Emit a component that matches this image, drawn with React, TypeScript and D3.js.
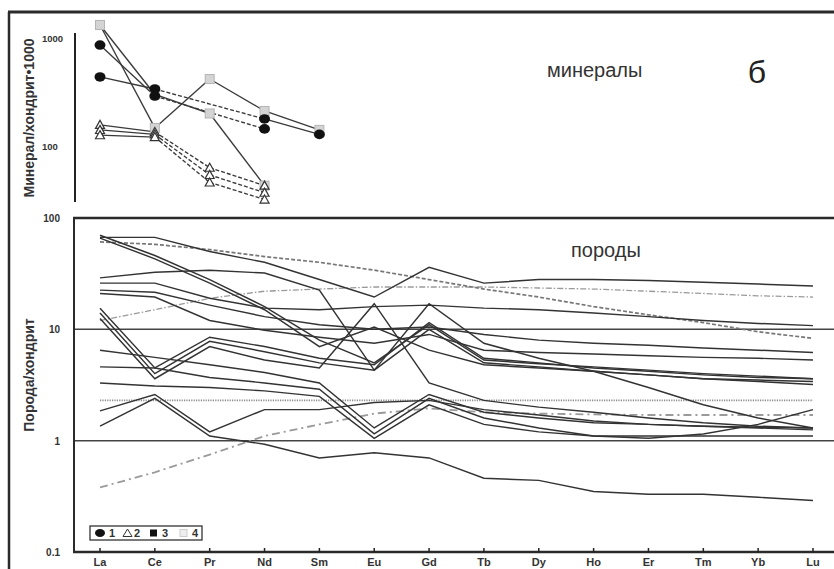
import React from "react";
import * as d3 from "d3";

// ---------- categories & ticks ----------
const ELEMENTS = ["La", "Ce", "Pr", "Nd", "Sm", "Eu", "Gd", "Tb", "Dy", "Ho", "Er", "Tm", "Yb", "Lu"];
const MINERAL_ELEMENTS = ["La", "Ce", "Pr", "Nd", "Sm"];
const lowerTicks = [0.1, 1, 10, 100];
const lowerTickLabels = ["0.1", "1", "10", "100"];
const lowerGrid = [1, 10];
const upperTicks = [100, 1000];
const upperTickLabels = ["100", "1000"];
const legendLabels = ["1", "2", "3", "4"];

// ---------- rocks (порода/хондрит) ----------
const rockA = [67, 67, 50, 40, 28, 19.5, 36, 26, 28, 28, 27.5, 26.5, 25.5, 24.5];
const rockDashed = [61, 58, 52, 45, 40, 34, 28, 23, 19.5, 16, 13.5, 11.5, 9.5, 8.3];
const rockDashDot = [12, 15, 19, 22, 23, 24, 24, 24, 23.5, 23, 22, 21, 20, 19.5];
const rockB = [29, 32.5, 34, 32, 22.5, 4.3, 17, 7.5, 5.5, 4.2, 3, 2.1, 1.6, 1.3];
const rockC = [70, 46, 28, 16, 8, 5, 11, 5.3, 4.9, 4.6, 4.3, 4, 3.8, 3.6];
const rockC2 = [66, 43, 26, 15, 7, 10.5, 6.5, 4.8, 4.5, 4.2, 3.9, 3.6, 3.4, 3.2];
const rockF = [26, 26, 19, 15.5, 15, 16, 16.5, 15.5, 15, 14, 13, 12, 11.3, 10.8];
const rockG = [22.5, 21.5, 16.5, 13, 11, 10, 10.5, 9, 8, 7.5, 7.2, 6.8, 6.5, 6.2];
const rockH = [21, 19.5, 12, 9.8, 8.5, 7.5, 9, 6.5, 6.2, 6, 5.8, 5.6, 5.5, 5.3];
const rockI = [15.5, 4.5, 8.5, 7, 5.5, 4.8, 11.5, 5.5, 5, 4.5, 4.2, 3.9, 3.7, 3.6];
const rockJ = [14, 4, 7.8, 6.3, 5, 4.3, 10, 5, 4.6, 4.2, 3.9, 3.6, 3.5, 3.4];
const rockK = [12.5, 3.6, 7, 5.3, 4.5, 17, 3.3, 2.3, 2.0, 1.8, 1.6, 1.45, 1.35, 1.3];
const rockV1 = [6.5, 5.6, 4.8, 4.1, 3.3, 1.3, 2.6, 1.8, 1.6, 1.45, 1.4, 1.35, 1.32, 1.3];
const rockV2 = [4.6, 4.5, 3.7, 3.3, 2.9, 1.15, 2.4, 1.6, 1.3, 1.1, 1.05, 1.15, 1.4, 1.9];
const rockV3 = [3.3, 3.1, 3.0, 2.8, 2.5, 1.05, 2.1, 1.4, 1.2, 1.1, 1.1, 1.1, 1.1, 1.1];
const rockE = [1.85, 2.6, 1.2, 1.9, 1.9, 2.2, 2.3, 1.9, 1.7, 1.5, 1.4, 1.35, 1.3, 1.25];
const rockD = [1.35, 2.4, 1.1, 0.93, 0.7, 0.78, 0.7, 0.46, 0.44, 0.35, 0.33, 0.33, 0.31, 0.29];
const rockDotted = [2.3, 2.3, 2.3, 2.3, 2.3, 2.3, 2.3, 2.3, 2.3, 2.3, 2.3, 2.3, 2.3, 2.3];
const rockGrayDash = [0.38, 0.52, 0.75, 1.1, 1.4, 1.75, 1.95, 1.8, 1.75, 1.72, 1.7, 1.7, 1.7, 1.7];

// ---------- minerals (минерал/хондрит*1000) ----------
const minSq1 = [1320, 147, 417, 211, 141];
const minSq2 = [1320, 300, 200, 43, null];
const minC1 = [436, 337, null, 178, 128];
const minC2 = [860, 290, null, 144, null];
const minT1 = [157, 135, 63, 43, null];
const minT2 = [141, 128, 54, 37, null];
const minT3 = [126, 121, 46, 32, null];

// ---------- styles (kept apart from data) ----------
const STYLES: Record<string, { stroke: string; width: number; dash?: string }> = {
  solid: { stroke: "#333", width: 1.45 },
  dashed: { stroke: "#777", width: 1.7, dash: "4 2" },
  dashdot: { stroke: "#9a9a9a", width: 1.3, dash: "6 2 1.5 2" },
  dotted: { stroke: "#8a8a8a", width: 1.7, dash: "1.2 1.2" },
  graydash: { stroke: "#9a9a9a", width: 1.8, dash: "8 4 2 4" },
};

const rockSeries = [
  { v: rockDotted, s: "dotted" },
  { v: rockGrayDash, s: "graydash" },
  { v: rockDashDot, s: "dashdot" },
  { v: rockDashed, s: "dashed" },
  { v: rockA, s: "solid" },
  { v: rockB, s: "solid" },
  { v: rockC, s: "solid" },
  { v: rockC2, s: "solid" },
  { v: rockF, s: "solid" },
  { v: rockG, s: "solid" },
  { v: rockH, s: "solid" },
  { v: rockI, s: "solid" },
  { v: rockJ, s: "solid" },
  { v: rockK, s: "solid" },
  { v: rockV1, s: "solid" },
  { v: rockV2, s: "solid" },
  { v: rockV3, s: "solid" },
  { v: rockE, s: "solid" },
  { v: rockD, s: "solid" },
];

const mineralSeries = [
  { v: minSq1, m: "square", seg: ["solid", "solid", "solid", "solid"] },
  { v: minSq2, m: "square", seg: ["solid", "solid", "solid"] },
  { v: minT1, m: "triangle", seg: ["solid", "dashed", "dashed"] },
  { v: minT2, m: "triangle", seg: ["solid", "dashed", "dashed"] },
  { v: minT3, m: "triangle", seg: ["solid", "dashed", "dashed"] },
  { v: minC1, m: "circle", seg: ["solid", "dashed", "solid"] },
  { v: minC2, m: "circle", seg: ["solid", "dashed"] },
];

const W = 834;
const H = 569;
const FONT = "'Liberation Sans', Arial, sans-serif";

function Marker({ type, x, y }: { type: string; x: number; y: number }) {
  if (type === "circle") return <ellipse cx={x} cy={y} rx={5.5} ry={4.8} fill="#111" />;
  if (type === "square")
    return <rect x={x - 4.5} y={y - 4.5} width={9} height={9} fill="#d4d4d4" stroke="#b5b5b5" strokeWidth={1} />;
  const s = 4.5;
  const p = d3.path();
  p.moveTo(x, y - s);
  p.lineTo(x + s, y + s * 0.8);
  p.lineTo(x - s, y + s * 0.8);
  p.closePath();
  return <path d={p.toString()} fill="#fff" stroke="#333" strokeWidth={1.2} />;
}

export default function App() {
  const x = d3.scalePoint<string>().domain(ELEMENTS).range([100, 813]);
  const yLow = d3.scaleLog().domain([0.1, 100]).range([552, 218]);
  const yUp = d3.scaleLog().domain([100, 1000]).range([146, 38]);

  const lineLow = d3
    .line<number>()
    .x((_, i) => x(ELEMENTS[i]) as number)
    .y((d) => yLow(d));

  const mineralSegs: any[] = [];
  const mineralMarks: any[] = [];
  mineralSeries.forEach((ser, si) => {
    const pts = ser.v
      .map((v, i) => (v == null ? null : { x: x(MINERAL_ELEMENTS[i]) as number, y: yUp(v as number) }))
      .filter((p) => p != null) as { x: number; y: number }[];
    for (let k = 0; k < pts.length - 1; k++) {
      const st = STYLES[ser.seg[k] || "solid"];
      const seg = d3.line<{ x: number; y: number }>().x((d) => d.x).y((d) => d.y)([pts[k], pts[k + 1]]);
      mineralSegs.push(
        <path key={`ms${si}-${k}`} d={seg || ""} fill="none" stroke="#3a3a3a"
          strokeWidth={1.35} strokeDasharray={st.dash} />
      );
    }
    pts.forEach((p, k) => mineralMarks.push({ key: `mm${si}-${k}`, type: ser.m, ...p }));
  });
  const order = { square: 0, triangle: 1, circle: 2 } as Record<string, number>;
  mineralMarks.sort((a, b) => order[a.type] - order[b.type]);

  return (
    <svg width={W} height={H} style={{ position: "absolute", left: 0, top: 0, background: "#fff" }} fontFamily={FONT}>
      <rect x={0} y={0} width={W} height={H} fill="#fff" />
      {/* outer frame */}
      <line x1={8} y1={12} x2={W} y2={12} stroke="#2a2a2a" strokeWidth={3} />
      <line x1={9} y1={12} x2={9} y2={H} stroke="#2a2a2a" strokeWidth={2.5} />

      {/* ---------- upper plot ---------- */}
      <line x1={75} y1={33} x2={75} y2={202} stroke="#222" strokeWidth={2} />
      {upperTicks.map((t, i) => (
        <text key={t} x={42} y={yUp(t) + 3.5} fontSize={9.5} fontWeight="bold" fill="#333">
          {upperTickLabels[i]}
        </text>
      ))}
      <text transform="translate(34,118) rotate(-90)" textAnchor="middle" fontSize={14} fontWeight="bold" fill="#333">
        Минерал/хондрит•1000
      </text>
      {mineralSegs}
      {mineralMarks.map((m) => (
        <Marker key={m.key} type={m.type} x={m.x} y={m.y} />
      ))}
      <text x={547} y={77} fontSize={20} fill="#333">минералы</text>
      <text x={757} y={83} fontSize={32} fill="#222" textAnchor="middle">б</text>

      {/* ---------- lower plot ---------- */}
      {lowerGrid.map((g) => (
        <line key={g} x1={74} x2={W} y1={yLow(g)} y2={yLow(g)} stroke="#444" strokeWidth={1.5} />
      ))}
      {rockSeries.map((r, i) => {
        const st = STYLES[r.s];
        return (
          <path key={i} d={lineLow(r.v) || ""} fill="none" stroke={st.stroke} strokeWidth={st.width}
            strokeDasharray={st.dash} strokeLinejoin="miter" />
        );
      })}
      <line x1={73} x2={W} y1={218} y2={218} stroke="#2a2a2a" strokeWidth={2.5} />
      <line x1={74} x2={74} y1={217} y2={553} stroke="#2a2a2a" strokeWidth={2} />
      <line x1={73} x2={W} y1={552} y2={552} stroke="#2a2a2a" strokeWidth={2.5} />
      {ELEMENTS.map((e) => (
        <g key={e}>
          <line x1={x(e)} x2={x(e)} y1={548} y2={552} stroke="#222" strokeWidth={1.5} />
          <text x={x(e)} y={566} textAnchor="middle" fontSize={11} fontWeight="bold" fill="#333">{e}</text>
        </g>
      ))}
      {lowerTicks.map((t, i) => (
        <text key={t} x={60} y={yLow(t) + 4} textAnchor="end" fontSize={10} fontWeight="bold" fill="#333">
          {lowerTickLabels[i]}
        </text>
      ))}
      <text transform="translate(34,375) rotate(-90)" textAnchor="middle" fontSize={14} fontWeight="bold" fill="#333">
        Порода/хондрит
      </text>
      <text x={571} y={257} fontSize={20} fill="#333">породы</text>

      {/* legend */}
      <rect x={90} y={526} width={112} height={14} fill="#fff" stroke="#333" strokeWidth={1.3} />
      <ellipse cx={100} cy={533} rx={5} ry={4} fill="#111" />
      <text x={109} y={537} fontSize={11} fontWeight="bold" fill="#333">{legendLabels[0]}</text>
      <path d="M127.5,529 L132,536.5 L123,536.5 Z" fill="#fff" stroke="#333" strokeWidth={1} />
      <text x={134} y={537} fontSize={11} fontWeight="bold" fill="#333">{legendLabels[1]}</text>
      <rect x={150} y={529.5} width={7} height={7} fill="#111" />
      <text x={162} y={537} fontSize={11} fontWeight="bold" fill="#333">{legendLabels[2]}</text>
      <rect x={180} y={529.5} width={7} height={7} fill="#eee" stroke="#ccc" strokeWidth={1} />
      <text x={192} y={537} fontSize={11} fontWeight="bold" fill="#333">{legendLabels[3]}</text>
    </svg>
  );
}
